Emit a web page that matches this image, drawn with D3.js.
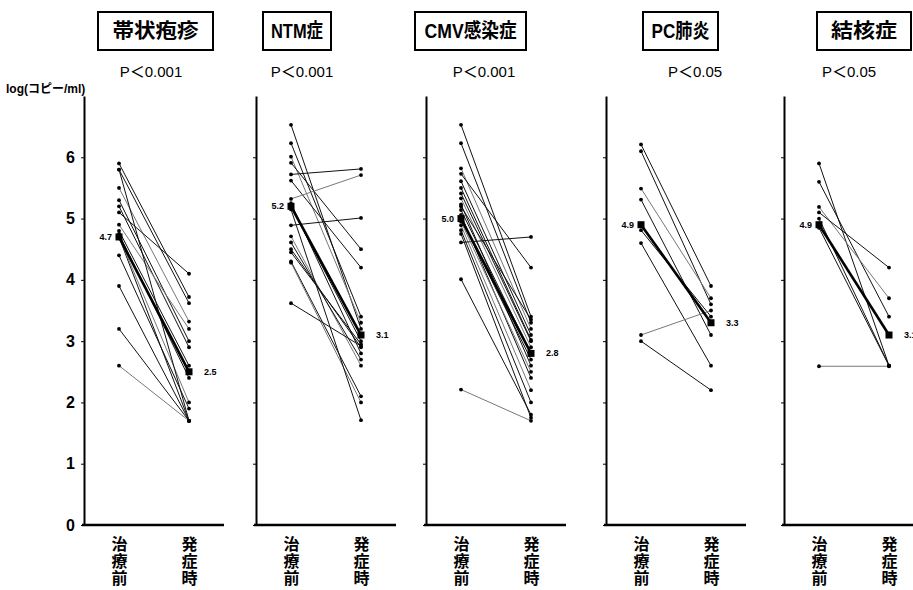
<!DOCTYPE html>
<html><head><meta charset="utf-8">
<script src="https://cdn.jsdelivr.net/npm/d3@7"></script>
<style>body{margin:0;background:#fff}svg{display:block}</style>
</head><body><svg id="c" width="913" height="590"></svg>
<script>
// ---- data ----
const diseases = ["帯状疱疹", "NTM症", "CMV感染症", "PC肺炎", "結核症"];
const pValues = ["P＜0.001", "P＜0.001", "P＜0.001", "P＜0.05", "P＜0.05"];
const timepoints = ["治療前", "発症時"];
const yTickValues = [0, 1, 2, 3, 4, 5, 6];
const yUnit = "log(コピー/ml)";

const herpesPre  = [5.9, 5.8, 5.5, 5.3, 5.2, 5.1, 4.9, 4.8, 4.75, 4.7, 4.7, 4.4, 3.9, 3.2, 2.6, 5.8];
const herpesPost = [3.72, 3.62, 3.32, 3.0, 2.9, 4.1, 3.2, 2.6, 2.4, 1.7, 2.0, 1.9, 1.7, 1.7, 1.7, 1.7];

const ntmPre  = [6.53, 6.23, 6.01, 5.91, 5.72, 5.62, 5.32, 5.25, 5.2, 4.89, 4.71, 4.61, 4.5, 4.3, 4.28, 3.62, 5.15, 4.45];
const ntmPost = [3.2, 3.4, 3.3, 4.5, 5.81, 4.2, 5.71, 2.8, 3.0, 5.01, 2.6, 2.7, 2.9, 2.1, 2.0, 2.92, 1.71, 2.95];

const cmvPre  = [6.53, 6.23, 5.82, 5.73, 5.61, 5.41, 5.33, 5.23, 5.14, 5.06, 4.89, 4.81, 4.61, 4.01, 2.21, 5.0, 4.75, 5.5, 4.95, 5.2];
const cmvPost = [3.4, 3.3, 3.2, 4.2, 3.1, 3.0, 2.9, 2.6, 2.8, 2.4, 2.2, 2.0, 4.7, 1.8, 1.7, 2.7, 1.75, 3.02, 2.5, 3.35];

const pcPre  = [6.21, 6.10, 5.49, 5.31, 4.81, 4.60, 3.10, 3.00];
const pcPost = [3.9, 3.6, 3.7, 3.1, 3.4, 2.6, 3.5, 2.2];

const tbPre  = [5.9, 5.6, 5.19, 5.1, 5.0, 4.85, 2.59];
const tbPost = [2.6, 3.4, 3.7, 4.2, 2.6, 2.6, 2.59];

const meanPre  = [4.7, 5.2, 5.0, 4.9, 4.9];
const meanPost = [2.5, 3.1, 2.8, 3.3, 3.1];

const preSeries  = [herpesPre, ntmPre, cmvPre, pcPre, tbPre];
const postSeries = [herpesPost, ntmPost, cmvPost, pcPost, tbPost];

// ---- layout ----
const axisXs = [84, 256, 426, 606, 784];
const panelW = 140;
const boxes = [[98, 213], [263, 331], [415, 526], [643, 718], [817, 911]];
const titleLen = [86, 52, 92, 58, 66];
const pCenters = [151, 302, 484, 695, 849];

const NUM = "'Liberation Sans', Arial, 'Noto Sans CJK JP', sans-serif";
const JP = "'Noto Sans CJK JP', sans-serif";

const svg = d3.select("#c");
const y = d3.scaleLinear().domain([0, 7]).range([525, 96]);

svg.append("text").attr("x", 6).attr("y", 93)
  .attr("font-family", NUM).attr("font-weight", "bold").attr("font-size", 12)
  .text(yUnit);

diseases.forEach((name, i) => {
  const ax = axisXs[i];
  const x = d3.scalePoint().domain(timepoints).range([ax, ax + panelW]).padding(0.5);
  const g = svg.append("g");

  // title box
  const [bx0, bx1] = boxes[i];
  g.append("rect").attr("x", bx0).attr("y", 12).attr("width", bx1 - bx0).attr("height", 38)
    .attr("fill", "none").attr("stroke", "#000").attr("stroke-width", 2);
  g.append("text").attr("x", (bx0 + bx1) / 2 - titleLen[i] / 2).attr("y", 38)
    .attr("textLength", titleLen[i]).attr("lengthAdjust", "spacingAndGlyphs")
    .attr("font-family", NUM).attr("font-size", 20).attr("font-weight", "bold").text(name);
  g.append("text").attr("x", pCenters[i]).attr("y", 77).attr("text-anchor", "middle")
    .attr("font-family", NUM).attr("font-size", 15).attr("font-weight", 500).text(pValues[i]);

  // y axis
  const yAxis = d3.axisLeft(y).tickValues(yTickValues).tickSize(3).tickSizeOuter(0).tickPadding(6)
    .tickFormat(i === 0 ? d3.format("d") : () => "");
  const ya = g.append("g").attr("transform", `translate(${ax},0)`).call(yAxis);
  ya.select(".domain").attr("stroke-width", 2);
  ya.selectAll("text").attr("font-family", NUM).attr("font-weight", "bold").attr("font-size", 16).attr("fill", "#000");

  // x axis
  const xAxis = d3.axisBottom(x).tickSize(0).tickSizeOuter(0);
  const xa = g.append("g").attr("transform", "translate(0,525)").call(xAxis);
  xa.select(".domain").attr("stroke-width", 2.5).attr("d", `M${ax - 2},0H${ax + panelW}`);
  xa.selectAll(".tick text").each(function(d) {
    const t = d3.select(this).text(null).attr("y", 0).attr("dy", null)
      .attr("font-family", JP).attr("font-weight", "bold").attr("font-size", 16).attr("fill", "#000");
    Array.from(d).forEach((ch, k) => {
      t.append("tspan").attr("x", 0).attr("y", 25 + k * 17).text(ch);
    });
  });

  // individual lines
  const pre = preSeries[i], post = postSeries[i];
  const pairs = pre.map((v, k) => ({ a: v, b: post[k], k }));
  g.selectAll("line.pt").data(pairs).enter().append("line")
    .attr("x1", x(timepoints[0])).attr("x2", x(timepoints[1]))
    .attr("y1", d => y(d.a)).attr("y2", d => y(d.b))
    .attr("stroke", d => (d.k % 4 === 2 ? "#777" : "#111")).attr("stroke-width", 1);
  g.selectAll("circle.a").data(pre).enter().append("circle")
    .attr("cx", x(timepoints[0])).attr("cy", d => y(d)).attr("r", 1.9).attr("fill", "#000");
  g.selectAll("circle.b").data(post).enter().append("circle")
    .attr("cx", x(timepoints[1])).attr("cy", d => y(d)).attr("r", 1.9).attr("fill", "#000");

  // mean line
  const m0 = meanPre[i], m1 = meanPost[i];
  g.append("line").attr("x1", x(timepoints[0])).attr("x2", x(timepoints[1]))
    .attr("y1", y(m0)).attr("y2", y(m1)).attr("stroke", "#000").attr("stroke-width", 2.6);
  [[timepoints[0], m0], [timepoints[1], m1]].forEach(([t, v]) => {
    g.append("rect").attr("x", x(t) - 3.5).attr("y", y(v) - 3.5).attr("width", 7).attr("height", 7).attr("fill", "#000");
  });
  g.append("text").attr("x", x(timepoints[0]) - 7).attr("y", y(m0) + 3).attr("text-anchor", "end")
    .attr("font-family", NUM).attr("font-weight", "bold").attr("font-size", 9).text(d3.format(".1f")(m0));
  g.append("text").attr("x", x(timepoints[1]) + 15).attr("y", y(m1) + 3)
    .attr("font-family", NUM).attr("font-weight", "bold").attr("font-size", 9).text(d3.format(".1f")(m1));
});
</script></body></html>
